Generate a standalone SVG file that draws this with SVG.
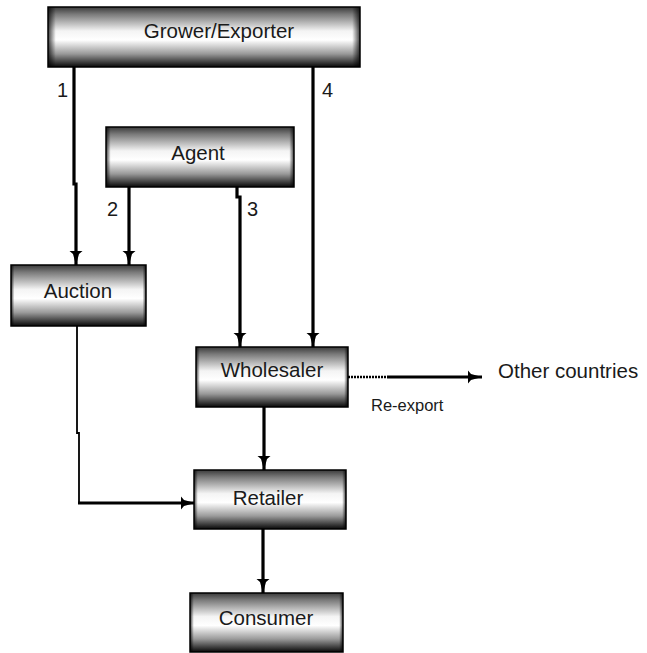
<svg xmlns="http://www.w3.org/2000/svg" width="647" height="653" viewBox="0 0 647 653">
<defs>
<linearGradient id="gv" x1="0" y1="0" x2="0" y2="1">
<stop offset="0" stop-color="#3a3a3a"/>
<stop offset="0.12" stop-color="#7a7a7a"/>
<stop offset="0.4" stop-color="#f4f4f4"/>
<stop offset="0.55" stop-color="#ffffff"/>
<stop offset="0.78" stop-color="#9a9a9a"/>
<stop offset="1" stop-color="#080808"/>
</linearGradient>
<linearGradient id="gh" x1="0" y1="0" x2="1" y2="0">
<stop offset="0" stop-color="#000" stop-opacity="0.75"/>
<stop offset="0.025" stop-color="#000" stop-opacity="0"/>
<stop offset="0.975" stop-color="#000" stop-opacity="0"/>
<stop offset="1" stop-color="#000" stop-opacity="0.75"/>
</linearGradient>
<marker id="ah" viewBox="0 0 14 14" refX="14" refY="7" markerWidth="14" markerHeight="14" markerUnits="userSpaceOnUse" orient="auto">
<path d="M0,0.5 L3,4 L14,7 L3,10 L0,13.5 Z" fill="#000"/>
</marker>
</defs>
<style>
.box{fill:url(#gv);stroke:#000;stroke-width:1.5}
.edge{fill:url(#gh);stroke:none}
.lbl{font-family:"Liberation Sans",Arial,sans-serif;font-size:20.5px;fill:#1a1a1a;text-anchor:middle}
.num{font-family:"Liberation Sans",Arial,sans-serif;font-size:20px;fill:#1a1a1a}
.thick{fill:none;stroke:#000;stroke-width:3.2}
.thin{fill:none;stroke:#000;stroke-width:1.8}
</style>
<rect width="647" height="653" fill="#fff"/>
<g id="connectors">
<path class="thick" d="M74,67 V184 H76 V265" marker-end="url(#ah)"/>
<path class="thick" d="M129,187 V265" marker-end="url(#ah)"/>
<path class="thick" d="M237,187 V197 H240 V347" marker-end="url(#ah)"/>
<path class="thick" d="M313,67 V347" marker-end="url(#ah)"/>
<path class="thin" d="M77,326 V433 H79 V503"/>
<path class="thick" d="M78,503 H195" marker-end="url(#ah)"/>
<path class="thick" d="M264,407 V470" marker-end="url(#ah)"/>
<path class="thick" d="M263,529 V593" marker-end="url(#ah)"/>
<path d="M348,377 H387" fill="none" stroke="#000" stroke-width="2.5" stroke-dasharray="2,1"/>
<path class="thick" d="M387,377 H482" marker-end="url(#ah)"/>
<text class="num" x="57" y="97">1</text>
<text class="num" x="322" y="97">4</text>
<text class="num" x="107" y="216">2</text>
<text class="num" x="247" y="216">3</text>
<text x="371" y="411" font-family="Liberation Sans, Arial, sans-serif" font-size="16.5" fill="#1a1a1a">Re-export</text>
</g>
<g id="grower">
<rect class="box" x="48" y="7" width="312" height="60"/>
<rect class="edge" x="48" y="7" width="312" height="60"/>
<text class="lbl" x="219" y="38">Grower/Exporter</text>
</g>
<g id="agent">
<rect class="box" x="106" y="127" width="188" height="60"/>
<rect class="edge" x="106" y="127" width="188" height="60"/>
<text class="lbl" x="198" y="160">Agent</text>
</g>
<g id="auction">
<rect class="box" x="11" y="265" width="135" height="61"/>
<rect class="edge" x="11" y="265" width="135" height="61"/>
<text class="lbl" x="78" y="298">Auction</text>
</g>
<g id="wholesaler">
<rect class="box" x="196" y="347" width="152" height="60"/>
<rect class="edge" x="196" y="347" width="152" height="60"/>
<text class="lbl" x="272" y="377">Wholesaler</text>
</g>
<g id="retailer">
<rect class="box" x="194" y="470" width="152" height="59"/>
<rect class="edge" x="194" y="470" width="152" height="59"/>
<text class="lbl" x="268" y="505">Retailer</text>
</g>
<g id="consumer">
<rect class="box" x="190" y="593" width="153" height="59"/>
<rect class="edge" x="190" y="593" width="153" height="59"/>
<text class="lbl" x="266" y="625">Consumer</text>
</g>
<g id="other">
<text x="498" y="378" font-family="Liberation Sans, Arial, sans-serif" font-size="20.5" fill="#1a1a1a">Other countries</text>
</g>
</svg>
